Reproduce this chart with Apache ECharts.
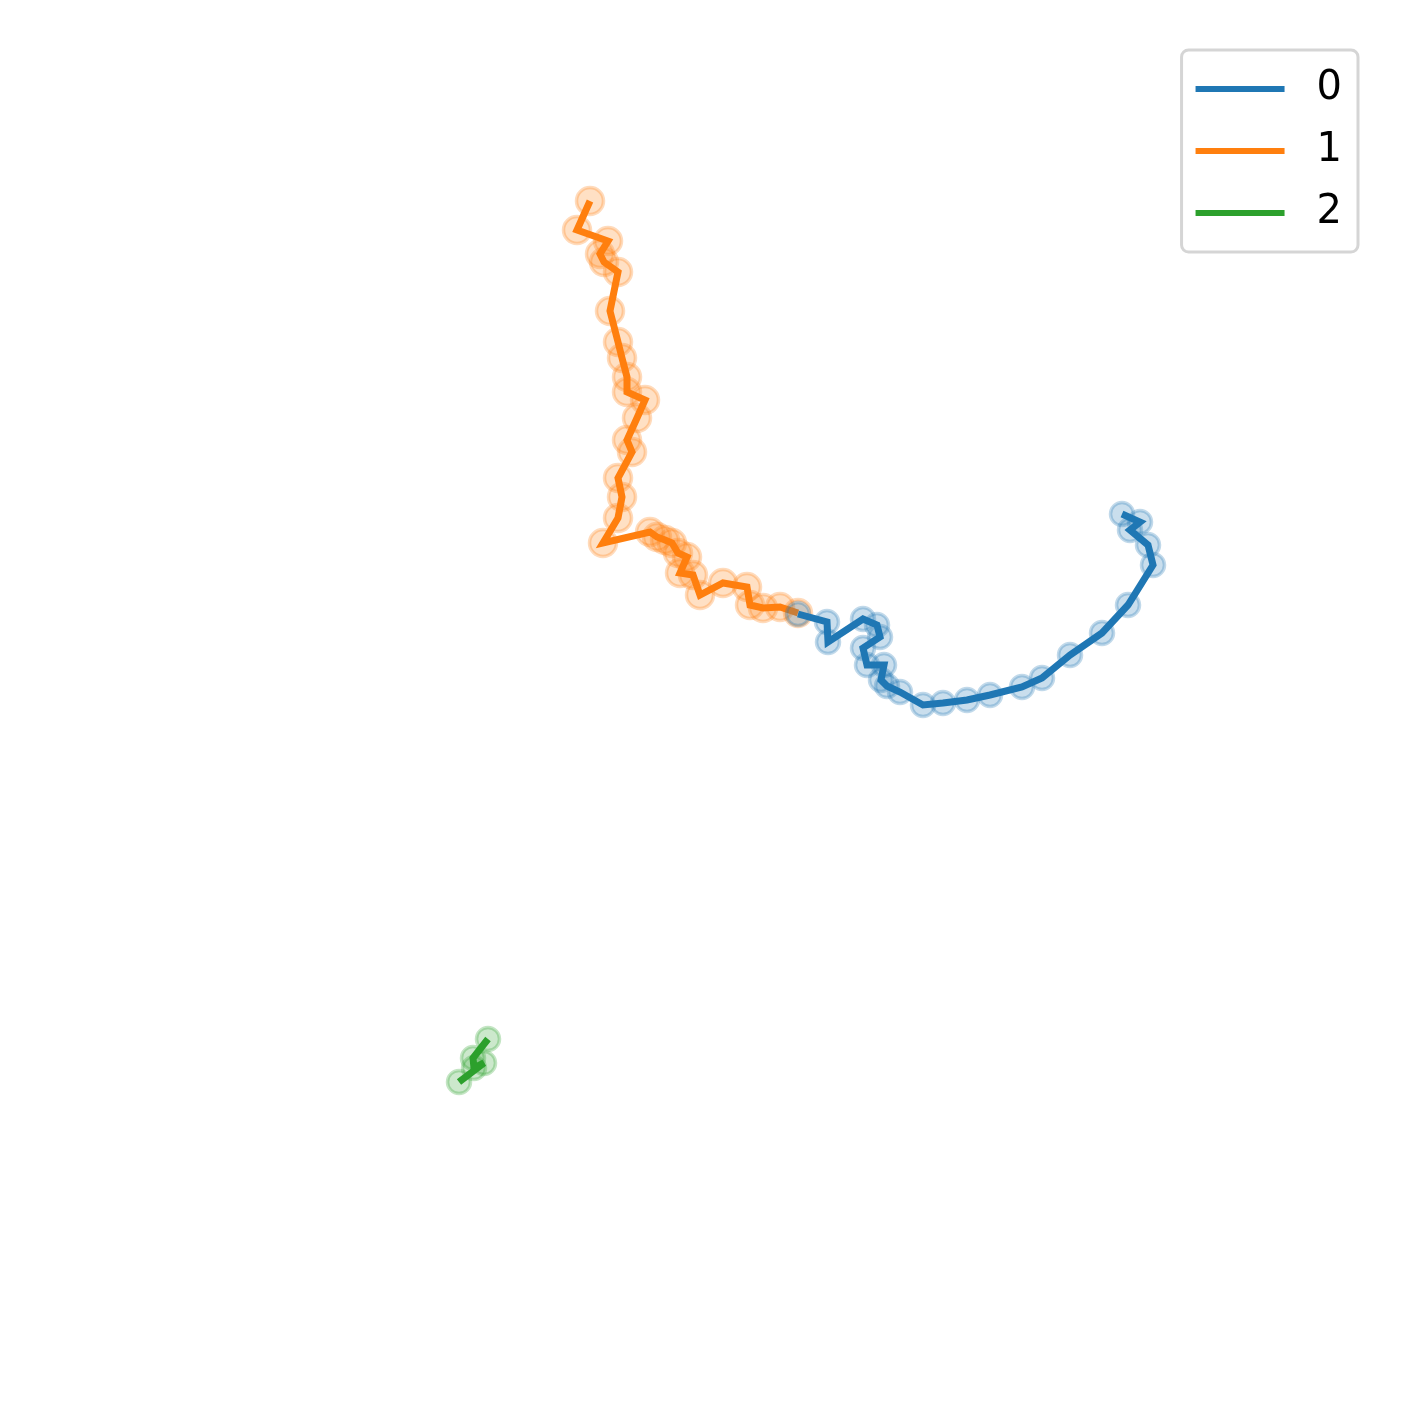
<!DOCTYPE html>
<html>
<head>
<meta charset="utf-8">
<script src="https://cdn.jsdelivr.net/npm/echarts@6/dist/echarts.min.js"></script>
<style>
  html, body { margin: 0; padding: 0; background: #fff; }
  #chart { width: 1409px; height: 1410px; }
</style>
</head>
<body>
<div id="chart"></div>
<script>
// path points (x, y in plot units, y grows downward)
const path0 = [
    [798, 614], [827, 622], [828, 642], [863, 619], [877, 625], [880, 637],
    [863, 648], [867, 665], [884, 665], [881, 680], [887, 686], [900, 692],
    [923, 705], [943, 703], [967, 700], [990, 695], [1022, 687], [1042, 678],
    [1070, 655], [1102, 633], [1128, 605], [1153, 565], [1148, 545], [1130, 530],
    [1140, 522], [1122, 514]
];
const path1 = [
    [590, 201], [577, 230], [608, 241], [600, 254], [604, 262], [618, 272],
    [610, 311], [618, 342], [622, 358], [627, 377], [627, 392], [645, 400],
    [637, 418], [627, 440], [632, 452], [618, 478], [622, 497], [618, 518],
    [603, 543], [650, 532], [657, 537], [665, 540], [672, 543], [678, 553],
    [687, 557], [680, 573], [693, 575], [700, 595], [723, 583], [747, 587],
    [750, 605], [763, 608], [780, 607], [798, 613]
];
const path2 = [
    [488, 1039], [473, 1058], [474, 1068], [484, 1063], [459, 1082]
];
const names = ['0', '1', '2'];
const colors = ['#1f77b4', '#ff7f0e', '#2ca02c'];
const markerSizes = [23, 27, 23];

const chart = echarts.init(document.getElementById('chart'), null, {renderer: 'canvas'});

function rgba(hex, a) {
    const n = parseInt(hex.slice(1), 16);
    return `rgba(${(n >> 16) & 255}, ${(n >> 8) & 255}, ${n & 255}, ${a})`;
}

const paths = [path0, path1, path2];
const drawOrder = [1, 0, 2];
const series = [];
drawOrder.forEach((i, k) => {
    series.push({
        name: names[i] + '_pts',
        type: 'scatter',
        data: paths[i],
        symbolSize: markerSizes[i],
        z: 2 + k * 2,
        silent: true,
        itemStyle: {
            color: rgba(colors[i], 0.3),
            borderColor: rgba(colors[i], 0.35),
            borderWidth: 3.5
        }
    });
    series.push({
        name: names[i],
        type: 'line',
        data: paths[i],
        showSymbol: false,
        symbol: 'none',
        z: 3 + k * 2,
        color: colors[i],
        lineStyle: {color: colors[i], width: 7, cap: 'butt', join: 'miter'},
        animation: false
    });
});

const option = {
    backgroundColor: '#ffffff',
    animation: false,
    grid: {left: 0, right: 0, top: 0, bottom: 0},
    xAxis: {type: 'value', min: 0, max: 1409, show: false},
    yAxis: {type: 'value', min: 0, max: 1410, inverse: true, show: false},
    legend: {
        data: names,
        right: 51,
        top: 50,
        orient: 'vertical',
        icon: 'rect',
        itemWidth: 89,
        itemHeight: 6,
        itemGap: 22,
        padding: [19, 16, 19, 14],
        borderColor: '#d5d5d5',
        borderWidth: 3,
        borderRadius: 7,
        backgroundColor: '#ffffff',
        textStyle: {
            fontFamily: 'DejaVu Sans',
            fontSize: 40,
            color: '#000000',
            padding: [0, 0, 0, 27]
        }
    },
    series: series
};

chart.setOption(option);
</script>
</body>
</html>
